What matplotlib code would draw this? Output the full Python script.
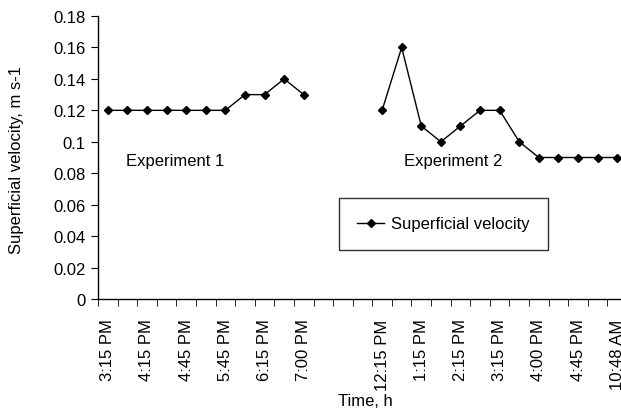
import matplotlib.pyplot as plt
import numpy as np

plt.rcParams['font.family'] = ['Liberation Sans', 'DejaVu Sans']

# Category labels (only every other category is labelled on the axis)
time_labels = ['3:15 PM', '', '4:15 PM', '', '4:45 PM', '', '5:45 PM', '', '6:15 PM', '', '7:00 PM',
               '', '', '', '12:15 PM', '', '1:15 PM', '', '2:15 PM', '', '3:15 PM', '',
               '4:00 PM', '', '4:45 PM', '', '10:48 AM']

# Superficial velocity, m s-1 (None = no measurement)
velocity = [0.12, 0.12, 0.12, 0.12, 0.12, 0.12, 0.12, 0.13, 0.13, 0.14, 0.13,
            None, None, None,
            0.12, 0.16, 0.11, 0.10, 0.11, 0.12, 0.12, 0.10, 0.09, 0.09, 0.09, 0.09, 0.09]

exp_labels = ['Experiment 1', 'Experiment 2']
exp_label_pos = [(3.45, 0.088), (17.65, 0.088)]

FS = 12

n = len(time_labels)
x = np.arange(n)
y = np.array([np.nan if v is None else v for v in velocity])

fig = plt.figure(figsize=(6.21, 4.10), dpi=100)
ax = fig.add_axes([98 / 621, 110 / 410, 529 / 621, 283 / 410])

ax.plot(x, y, color='black', linewidth=1, marker='D', markersize=4.5,
        label='Superficial velocity')

ax.set_xlim(-0.5, n - 0.5)
ax.set_ylim(0, 0.18)
ax.set_yticks(np.arange(0, 0.181, 0.02))
ax.set_yticklabels(['0', '0.02', '0.04', '0.06', '0.08', '0.1', '0.12', '0.14', '0.16', '0.18'])

# labels at category centres, tick marks at category boundaries
ax.set_xticks(x)
ax.set_xticklabels(time_labels, rotation=90)
ax.tick_params(axis='x', which='major', length=0, pad=14)
ax.set_xticks(np.arange(-0.5, n, 1.0), minor=True)
ax.tick_params(axis='x', which='minor', length=5, direction='out', color='black')
ax.tick_params(axis='y', length=5, direction='out', color='black', pad=4)
ax.tick_params(labelsize=FS, colors='black')

for s in ['top', 'right']:
    ax.spines[s].set_visible(False)
for s in ['left', 'bottom']:
    ax.spines[s].set_linewidth(1)
    ax.spines[s].set_color('black')

for txt, (px, py) in zip(exp_labels, exp_label_pos):
    ax.text(px, py, txt, fontsize=FS, ha='center', va='center')

fig.text(365 / 621, 1 - 402 / 410, 'Time, h', fontsize=FS, ha='center', va='center')
fig.text(17 / 621, 1 - 160 / 410, 'Superficial velocity, m s-1', fontsize=FS,
         rotation=90, ha='center', va='center')

leg = ax.legend(loc='upper left', bbox_to_anchor=(339 / 621, 1 - 199 / 410),
                bbox_transform=fig.transFigure, frameon=True, fancybox=False,
                fontsize=FS, handlelength=1.6, handletextpad=0.4,
                borderpad=1.1, borderaxespad=0)
leg.get_frame().set_edgecolor('black')
leg.get_frame().set_linewidth(1)

fig.savefig('out.png', dpi=100)
